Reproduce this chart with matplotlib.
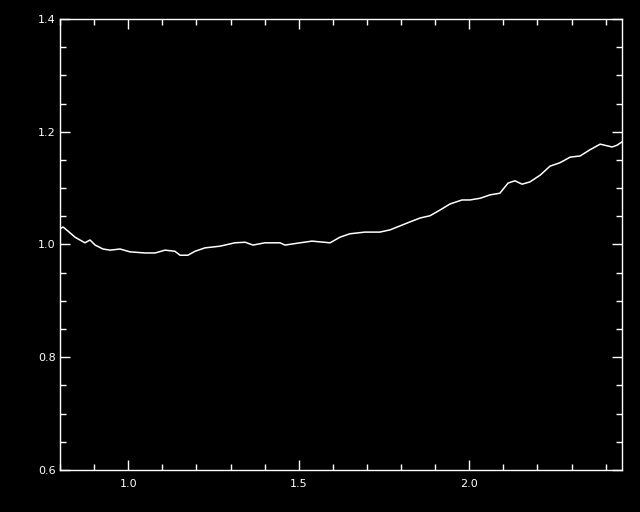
import matplotlib
matplotlib.use("Agg")
import matplotlib.pyplot as plt
from matplotlib.ticker import MultipleLocator

x = [0.803, 0.809, 0.823, 0.844, 0.873, 0.888, 0.903, 0.926, 0.947, 0.976,
     1.005, 1.049, 1.079, 1.108, 1.137, 1.152, 1.175, 1.196, 1.225, 1.269,
     1.313, 1.343, 1.366, 1.401, 1.445, 1.460, 1.504, 1.539, 1.592, 1.621,
     1.650, 1.694, 1.738, 1.768, 1.797, 1.826, 1.856, 1.885, 1.914, 1.944,
     1.979, 2.002, 2.032, 2.061, 2.090, 2.114, 2.134, 2.155, 2.178, 2.208,
     2.237, 2.266, 2.296, 2.325, 2.354, 2.384, 2.398, 2.419, 2.433, 2.448]
y = [1.029, 1.031, 1.024, 1.013, 1.003, 1.008, 0.999, 0.992, 0.990, 0.992,
     0.987, 0.985, 0.985, 0.990, 0.988, 0.981, 0.981, 0.988, 0.994, 0.997,
     1.003, 1.004, 0.999, 1.003, 1.003, 0.999, 1.003, 1.006, 1.003, 1.013,
     1.019, 1.022, 1.022, 1.026, 1.033, 1.040, 1.047, 1.051, 1.061, 1.072,
     1.079, 1.079, 1.082, 1.088, 1.091, 1.109, 1.113, 1.107, 1.111, 1.123,
     1.139, 1.145, 1.155, 1.157, 1.168, 1.178, 1.176, 1.173, 1.176, 1.182]

xlim = (0.8, 2.448)
ylim = (0.6, 1.4)

fig = plt.figure(figsize=(6.4, 5.12), dpi=100, facecolor="black")
ax = fig.add_axes([60/640, 42/512, 562/640, 451/512])
ax.set_facecolor("black")
ax.plot(x, y, color="white", lw=1.1)
ax.set_xlim(*xlim)
ax.set_ylim(*ylim)

ax.xaxis.set_major_locator(MultipleLocator(0.5))
ax.xaxis.set_minor_locator(MultipleLocator(0.1))
ax.yaxis.set_major_locator(MultipleLocator(0.2))
ax.yaxis.set_minor_locator(MultipleLocator(0.05))
ax.xaxis.set_major_formatter(plt.FormatStrFormatter("%.1f"))
ax.yaxis.set_major_formatter(plt.FormatStrFormatter("%.1f"))

for s in ax.spines.values():
    s.set_color("white")
    s.set_linewidth(1.0)

ax.tick_params(which="both", direction="in", colors="white", top=True, right=True,
               labelsize=8, width=1.0)
ax.tick_params(which="major", length=7.5)
ax.tick_params(which="minor", length=4)
ax.tick_params(axis="x", which="major", pad=6.5)
ax.tick_params(axis="y", which="major", pad=3)

fig.savefig("out.png", dpi=100, facecolor="black")
